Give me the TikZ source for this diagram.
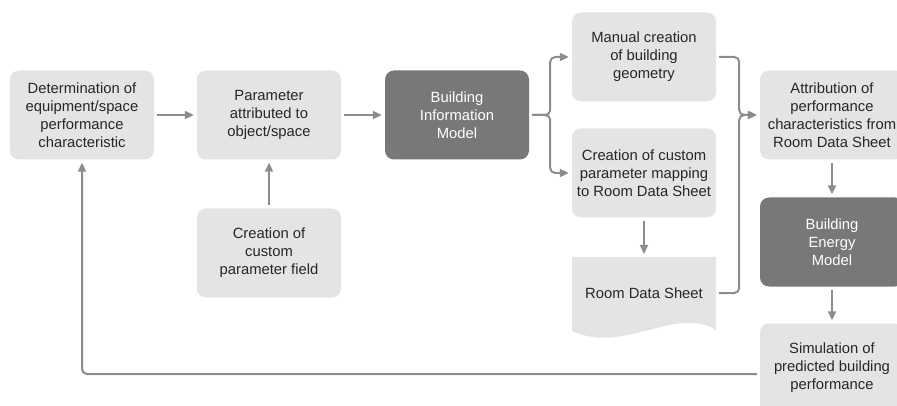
\documentclass[tikz,border=0pt]{standalone}
\usepackage{fontspec}
\setmainfont{Liberation Sans}
\usetikzlibrary{arrows.meta}
\definecolor{boxgrey}{HTML}{E3E4E6}
\definecolor{darkgrey}{HTML}{787878}
\definecolor{linegrey}{HTML}{8C8C8C}

\begin{document}
\begin{tikzpicture}[x=1pt,y=-1pt,
  box/.style={fill=boxgrey,rounded corners=9pt,minimum width=144pt,minimum height=89pt,
    align=center,text=black!85,font=\fontsize{14.8}{18}\selectfont},
  darkbox/.style={box,fill=darkgrey,text=white},
  flow/.style={draw=linegrey,line width=2pt,-{Triangle[width=8pt,length=9pt]},
    rounded corners=5pt,shorten >=3pt,shorten <=3pt}]
\useasboundingbox (0,0) rectangle (897,406);

\node [box] (det) at (82,115) {Determination of\\equipment/space\\performance\\characteristic};
\node [box] (par) at (269,115) {Parameter\\attributed to\\object/space};
\node [box] (field) at (269,253) {Creation of\\custom\\parameter field};
\node [darkbox] (bim) at (457,115) {Building\\Information\\Model};
\node [box] (manual) at (644,57) {Manual creation\\of building\\geometry};
\node [box] (mapping) at (644,173) {Creation of custom\\parameter mapping\\to Room Data Sheet};

% room data sheet (document shape)
\fill [boxgrey] (572,257) -- (716,257) -- (716,330)
  .. controls (675,305) and (625,355) .. (572,331) -- cycle;
\node [box,fill=none,minimum height=20pt] (rds) at (644,293) {Room Data Sheet};

\node [box] (attr) at (832,115) {Attribution of\\performance\\characteristics from\\Room Data Sheet};
\node [darkbox] (bem) at (832,242) {Building\\Energy\\Model};
\node [box] (sim) at (832,368) {Simulation of\\predicted building\\performance};

\draw [flow] (det) -- (par);
\draw [flow] (par) -- (bim);
\draw [flow] (field) -- (par);
\draw [flow] (bim.east) -- ++(21,0) |- (manual.west);
\draw [flow] (bim.east) -- ++(21,0) |- (mapping.west);
\draw [flow] (mapping) -- (rds.north |- 0,257);
\draw [flow] (manual.east) -- ++(23,0) |- (attr.west);
\draw [flow] (rds.east) -- ++(23,0) |- (attr.west);
\draw [flow] (attr) -- (bem);
\draw [flow] (bem) -- (sim);
\draw [flow] ([yshift=-6pt]sim.west) -| (det.south);
\end{tikzpicture}
\end{document}
